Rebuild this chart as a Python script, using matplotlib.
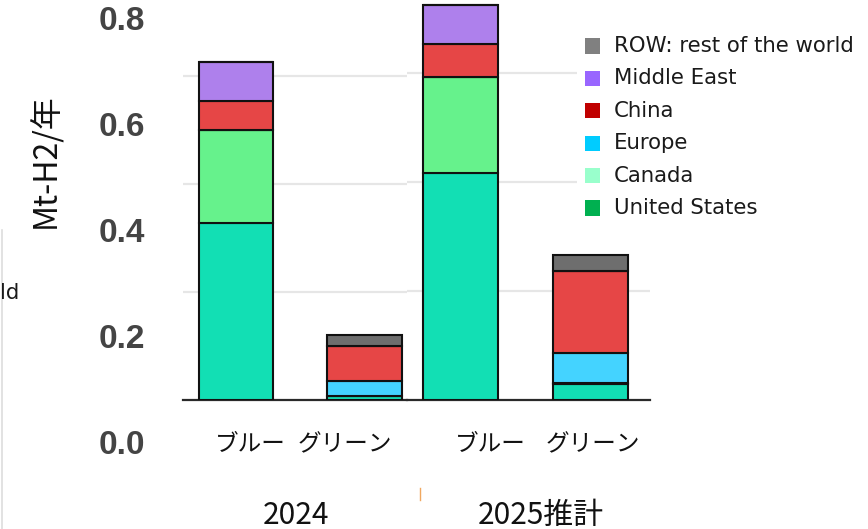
import matplotlib
matplotlib.use("Agg")
import matplotlib.pyplot as plt
from matplotlib.patches import Rectangle
from matplotlib.lines import Line2D

# ---- data (Mt-H2 per year), bars: [ブルー, グリーン] ----
years = ["2024", "2025推計"]
kinds = ["ブルー", "グリーン"]
united_states = {"2024": [0.328, 0.008], "2025推計": [0.416, 0.029]}
canada        = {"2024": [0.172, 0.0],   "2025推計": [0.176, 0.003]}
europe        = {"2024": [0.0,   0.027], "2025推計": [0.0,   0.054]}
china         = {"2024": [0.054, 0.065], "2025推計": [0.062, 0.150]}
middle_east   = {"2024": [0.072, 0.0],   "2025推計": [0.070, 0.0]}
row           = {"2024": [0.0,   0.020], "2025推計": [0.0,   0.030]}

series = [united_states, canada, europe, china, middle_east, row]
bar_colors = ["#12DFB4", "#66F28C", "#44D3FF", "#E64646", "#AE80EC", "#6E6E6E"]

legend_labels = ["ROW: rest of the world", "Middle East", "China",
                 "Europe", "Canada", "United States"]
legend_colors = ["#808080", "#9966FF", "#C00000", "#00CCFF", "#99FFCC", "#00B050"]

y_tick_labels = ["0.8", "0.6", "0.4", "0.2", "0.0"]
y_label = "Mt-H2/年"

# ---- figure ----
W, H = 868, 529
fig = plt.figure(figsize=(W / 100, H / 100), dpi=100)
fig.patch.set_facecolor("white")


def fx(x):
    return x / W


def fy(y):
    return 1 - y / H


JP = ["Noto Sans CJK JP", "DejaVu Sans"]

# panel geometry: (left px, right px, px per 0.2, x-limits)
panels = {
    "2024": (183, 407, 108, (-0.414, 1.332)),
    "2025推計": (407, 650, 109, (-0.41, 1.458)),
}

for year in years:
    left, right, px_per, xlim = panels[year]
    ax = fig.add_axes([fx(left), fy(400), (right - left) / W, 400 / H])
    ax.set_ylim(0, 400 * 0.2 / px_per)
    ax.set_xlim(*xlim)
    bottoms = [0.0, 0.0]
    for s, c in zip(series, bar_colors):
        vals = s[year]
        ax.bar([0, 1], vals, width=0.58, bottom=bottoms, color=c,
               edgecolor="#111111", linewidth=1.5, zorder=3)
        bottoms = [b + v for b, v in zip(bottoms, vals)]
    ax.set_yticks([0.2, 0.4, 0.6])
    ax.yaxis.grid(True, color="#e6e6e6", linewidth=1.6)
    ax.set_axisbelow(True)
    ax.tick_params(length=0, labelleft=False, labelbottom=False)
    for sp in ["top", "left", "right"]:
        ax.spines[sp].set_visible(False)
    ax.spines["bottom"].set_color("#2a2a2a")
    ax.spines["bottom"].set_linewidth(1.6)
    ax.patch.set_alpha(0)

# y tick labels
for lab, y in zip(y_tick_labels, [22, 127, 234, 340, 446]):
    fig.text(fx(145), fy(y), lab, ha="right", va="center",
             family="Liberation Sans", weight="bold", fontsize=24,
             color="#444444")

# y axis title
fig.text(fx(46), fy(161), y_label, rotation=90, ha="center", va="center",
         family=JP, fontsize=23, color="#111111")

# category labels
for lab, x in zip(kinds * 2, [250, 345, 490, 593]):
    fig.text(fx(x), fy(445), lab, ha="center", va="center",
             family=JP, fontsize=17, color="#111111")

# group labels
for lab, x in zip(years, [296, 541]):
    fig.text(fx(x), fy(515), lab, ha="center", va="center",
             family=JP, fontsize=21.5, color="#111111")

# legend
fig.add_artist(Rectangle((fx(577), fy(226)), (W - 577) / W, 198 / H,
                         transform=fig.transFigure, facecolor="white",
                         edgecolor="none", zorder=5))
for i, (lab, c) in enumerate(zip(legend_labels, legend_colors)):
    yc = 46 + i * 32.4
    fig.add_artist(Rectangle((fx(585), fy(yc + 7.5)), 15 / W, 15 / H,
                             transform=fig.transFigure, facecolor=c,
                             edgecolor="none", zorder=6))
    fig.text(fx(614), fy(yc), lab, ha="left", va="center",
             family="DejaVu Sans", fontsize=15.3, color="#1a1a1a", zorder=6)

# fragment of a legend entry at the left border
fig.text(fx(0), fy(293), "ld", ha="left", va="center",
         family="DejaVu Sans", fontsize=15.3, color="#1a1a1a")
fig.add_artist(Line2D([fx(1.5), fx(1.5)], [fy(230), fy(529)],
                      transform=fig.transFigure, color="#dddddd", linewidth=1.2))
fig.add_artist(Line2D([fx(420), fx(420)], [fy(488), fy(500)],
                      transform=fig.transFigure, color="#f0a860", linewidth=1.0))

fig.savefig("out.png", dpi=100)
